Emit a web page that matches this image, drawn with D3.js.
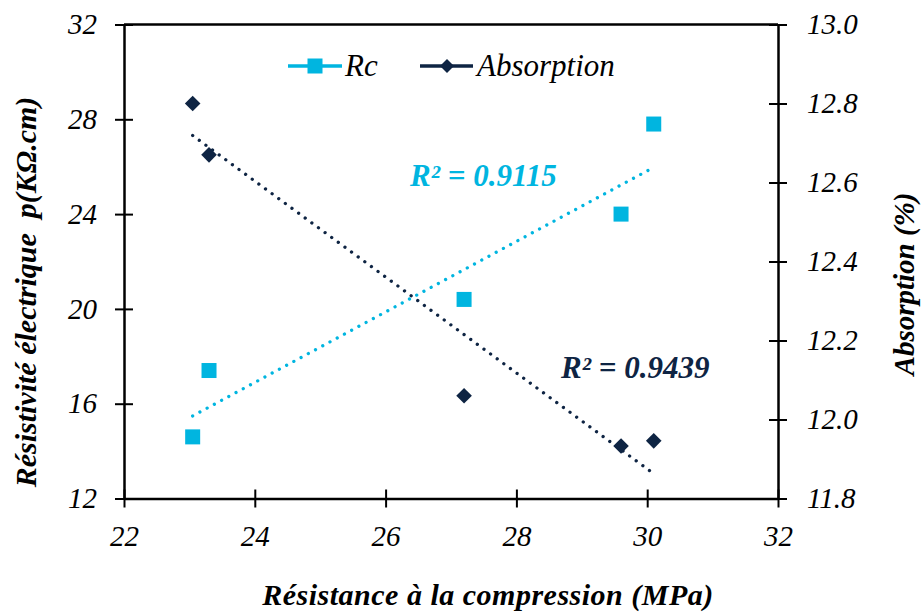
<!DOCTYPE html>
<html><head><meta charset="utf-8">
<script src="https://cdn.jsdelivr.net/npm/d3@7"></script>
<style>
html,body{margin:0;padding:0;background:#fff;}
text{font-family:"Liberation Serif","DejaVu Serif",serif;font-style:italic;}
</style></head>
<body><svg id="c" width="924" height="612" font-family="Liberation Serif, DejaVu Serif, serif"></svg>
<script>
const compression = [23.05, 23.3, 27.2, 29.6, 30.1];
const rcValues = [14.6, 17.4, 20.4, 24.0, 27.8];
const absorptionValues = [12.80, 12.67, 12.06, 11.933, 11.946];
const xTicks = [22, 24, 26, 28, 30, 32];
const yLeftTicks = [12, 16, 20, 24, 28, 32];
const yRightTicks = [11.8, 12.0, 12.2, 12.4, 12.6, 12.8, 13.0];
const r2Rc = "R² = 0.9115";
const r2Abs = "R² = 0.9439";

const FONT = "Liberation Serif, DejaVu Serif, serif";
const cRc = "#00B5E0", cAbs = "#0E2443";
const svg = d3.select("#c");
const x = d3.scaleLinear().domain([22, 32]).range([124, 778]);
const yL = d3.scaleLinear().domain([12, 32]).range([498.5, 24.5]);
const yR = d3.scaleLinear().domain([11.8, 13.0]).range([498.5, 24.5]);

function fit(xs, ys) {
  const mx = d3.mean(xs), my = d3.mean(ys);
  let sxy = 0, sxx = 0;
  xs.forEach((v, i) => { sxy += (v - mx) * (ys[i] - my); sxx += (v - mx) ** 2; });
  const b = sxy / sxx; return v => my + b * (v - mx);
}
const txt = sel => sel.attr("font-family", FONT).attr("font-style", "italic");

// frame top line
svg.append("line").attr("x1", x(22)).attr("x2", x(32)).attr("y1", yL(32)).attr("y2", yL(32))
  .attr("stroke", "#000").attr("stroke-width", 2.5);

const tickStyle = g => {
  g.attr("font-family", FONT);
  g.select(".domain").attr("stroke-width", 2.5);
  g.selectAll(".tick line").attr("stroke-width", 2);
  g.selectAll(".tick text").attr("font-size", 29).attr("fill", "#000").call(txt);
};
// axes
const gx = svg.append("g").attr("transform", `translate(0,${yL(12)})`)
  .call(d3.axisBottom(x).tickValues(xTicks).tickSize(9).tickSizeOuter(0).tickPadding(18).tickFormat(d3.format("d")));
gx.call(tickStyle);
gx.selectAll(".tick line").attr("y1", -9);

const gl = svg.append("g").attr("transform", `translate(${x(22)},0)`)
  .call(d3.axisLeft(yL).tickValues(yLeftTicks).tickSize(9).tickSizeOuter(0).tickPadding(18).tickFormat(d3.format("d")));
gl.call(tickStyle);
gl.selectAll(".tick line").attr("x1", 9);

const gr = svg.append("g").attr("transform", `translate(${x(32)},0)`)
  .call(d3.axisRight(yR).tickValues(yRightTicks).tickSize(9).tickSizeOuter(0).tickPadding(20).tickFormat(d3.format(".1f")));
gr.call(tickStyle);
gr.selectAll(".tick line").attr("x1", -9);

// trendlines
const fRc = fit(compression, rcValues), fAbs = fit(compression, absorptionValues);
const x0 = d3.min(compression), x1 = d3.max(compression);
svg.append("line").attr("x1", x(x0)).attr("x2", x(x1)).attr("y1", yL(fRc(x0))).attr("y2", yL(fRc(x1)))
  .attr("stroke", cRc).attr("stroke-width", 3.3).attr("stroke-linecap", "round").attr("stroke-dasharray", "0.01 8.2");
svg.append("line").attr("x1", x(x0)).attr("x2", x(x1)).attr("y1", yR(fAbs(x0))).attr("y2", yR(fAbs(x1)))
  .attr("stroke", cAbs).attr("stroke-width", 3.3).attr("stroke-linecap", "round").attr("stroke-dasharray", "0.01 8.2");

// markers
const sq = 15, dg = 7.8;
svg.selectAll(".rc").data(compression).join("rect")
  .attr("x", (d) => x(d) - sq / 2).attr("y", (d, i) => yL(rcValues[i]) - sq / 2)
  .attr("width", sq).attr("height", sq).attr("fill", cRc);
svg.selectAll(".ab").data(compression).join("path")
  .attr("d", (d, i) => { const cx = x(d), cy = yR(absorptionValues[i]); return `M${cx},${cy - dg}L${cx + dg},${cy}L${cx},${cy + dg}L${cx - dg},${cy}Z`; })
  .attr("fill", cAbs);

// R² labels
svg.append("text").attr("x", 410).attr("y", 186).attr("font-size", 31).attr("font-weight", "bold").attr("fill", cRc).call(txt).text(r2Rc);
svg.append("text").attr("x", 561).attr("y", 378).attr("font-size", 31).attr("font-weight", "bold").attr("fill", cAbs).call(txt).text(r2Abs);

// legend
const ly = 66;
svg.append("line").attr("x1", 288).attr("x2", 342).attr("y1", ly).attr("y2", ly).attr("stroke", cRc).attr("stroke-width", 3.5);
svg.append("rect").attr("x", 315 - 7.5).attr("y", ly - 7.5).attr("width", 15).attr("height", 15).attr("fill", cRc);
svg.append("text").attr("x", 345).attr("y", 76).attr("font-size", 31).call(txt).text("Rc");
svg.append("line").attr("x1", 420).attr("x2", 473).attr("y1", ly).attr("y2", ly).attr("stroke", cAbs).attr("stroke-width", 3.5);
svg.append("path").attr("d", `M447,${ly - 7}L454,${ly}L447,${ly + 7}L440,${ly}Z`).attr("fill", cAbs);
svg.append("text").attr("x", 477).attr("y", 76).attr("font-size", 31).call(txt).text("Absorption");

// axis titles
svg.append("text").attr("x", 488).attr("y", 605).attr("text-anchor", "middle").attr("font-size", 30).attr("letter-spacing", 0.5)
  .attr("font-weight", "bold").call(txt).text("Résistance à la compression (MPa)");
svg.append("text").attr("transform", "translate(36,292) rotate(-90)").attr("text-anchor", "middle").attr("font-size", 30).attr("font-weight", "bold").call(txt)
  .style("white-space", "pre").text("Résistivité électrique  p(KΩ.cm)");
svg.append("text").attr("transform", "translate(914,284) rotate(-90)").attr("text-anchor", "middle").attr("font-size", 29).attr("font-weight", "bold").call(txt)
  .text("Absorption (%)");
</script></body></html>
